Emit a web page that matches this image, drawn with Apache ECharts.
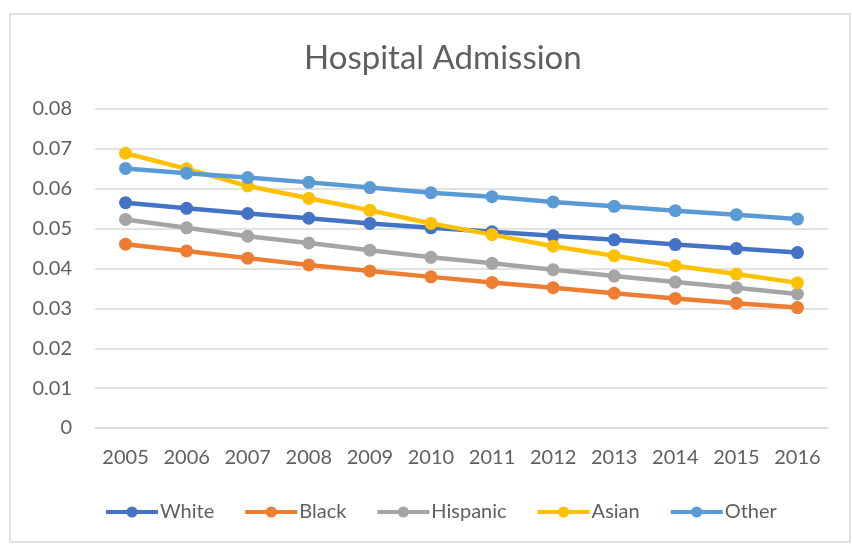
<!DOCTYPE html>
<html>
<head>
<meta charset="utf-8">
<script src="https://cdn.jsdelivr.net/npm/echarts@6/dist/echarts.min.js"></script>
<style>
  html, body { margin: 0; padding: 0; background: #fff; }
  #chart { width: 852px; height: 544px; }
</style>
</head>
<body>
<div id="chart"></div>
<script>
// --- data ---------------------------------------------------------------
var years = ['2005', '2006', '2007', '2008', '2009', '2010', '2011', '2012', '2013', '2014', '2015', '2016'];

var white    = [0.0565, 0.0551, 0.0538, 0.0526, 0.0513, 0.0502, 0.0492, 0.0482, 0.0472, 0.0460, 0.0450, 0.0440];
var black    = [0.0461, 0.0444, 0.0426, 0.0409, 0.0394, 0.0379, 0.0365, 0.0352, 0.0338, 0.0325, 0.0313, 0.0302];
var hispanic = [0.0523, 0.0502, 0.0481, 0.0464, 0.0446, 0.0428, 0.0413, 0.0397, 0.0381, 0.0366, 0.0352, 0.0336];
var asian    = [0.0689, 0.0650, 0.0607, 0.0576, 0.0546, 0.0513, 0.0485, 0.0456, 0.0432, 0.0407, 0.0386, 0.0364];
var other    = [0.0651, 0.0639, 0.0628, 0.0616, 0.0603, 0.0590, 0.0580, 0.0567, 0.0556, 0.0545, 0.0535, 0.0524];

var yTicks = [0, 0.01, 0.02, 0.03, 0.04, 0.05, 0.06, 0.07, 0.08];

var seriesNames = ['White', 'Black', 'Hispanic', 'Asian', 'Other'];
var seriesColors = ['#4472C4', '#ED7D31', '#A5A5A5', '#FFC000', '#5B9BD5'];
var seriesData = [white, black, hispanic, asian, other];

var font = 'Lato, "Open Sans", sans-serif';
var textColor = '#5f5f5f';

// --- chart ----------------------------------------------------------------
var eChart = echarts.init(document.getElementById('chart'));

function makeSeries(i) {
	return {
		name: seriesNames[i],
		type: 'line',
		data: seriesData[i],
		color: seriesColors[i],
		symbol: 'circle',
		symbolSize: 13,
		lineStyle: { width: 4.5 },
		itemStyle: { color: seriesColors[i] },
		z: 2 + i
	};
}

var eChartOption = {
	animation: false,
	backgroundColor: '#fff',
	textStyle: { fontFamily: font },
	title: {
		text: 'Hospital Admission',
		left: 299,
		top: 37,
		textStyle: {
			fontFamily: font,
			fontSize: 33,
			fontWeight: 'normal',
			color: textColor
		}
	},
	legend: {
		data: seriesNames,
		top: 497,
		left: 99,
		itemWidth: 52,
		itemHeight: 14,
		itemGap: 29,
		lineStyle: { width: 4 },
		textStyle: { fontFamily: font, fontSize: 20, color: textColor, padding: [0, 0, 0, -3] }
	},
	grid: {
		left: 95,
		right: 24,
		top: 109,
		bottom: 116
	},
	xAxis: {
		type: 'category',
		data: years,
		boundaryGap: true,
		axisLine: { lineStyle: { color: '#d9d9d9', width: 1.5 } },
		axisTick: { show: false },
		axisLabel: { fontFamily: font, fontSize: 20, color: textColor, margin: 20 }
	},
	yAxis: {
		type: 'value',
		min: yTicks[0],
		max: yTicks[yTicks.length - 1],
		interval: yTicks[1] - yTicks[0],
		axisLine: { show: false },
		axisTick: { show: false },
		splitLine: { lineStyle: { color: '#d9d9d9', width: 1.5 } },
		axisLabel: {
			fontFamily: font,
			fontSize: 20,
			color: textColor,
			margin: 23,
			formatter: function (v) {
				return v === 0 ? '0' : v.toFixed(2);
			}
		}
	},
	graphic: [{
		type: 'rect',
		shape: { x: 10, y: 14, width: 840, height: 528 },
		style: { fill: null, stroke: '#d9d9d9', lineWidth: 1.5 },
		silent: true
	}],
	series: seriesNames.map(function (n, i) { return makeSeries(i); })
};

eChart.setOption(eChartOption);
</script>
</body>
</html>
